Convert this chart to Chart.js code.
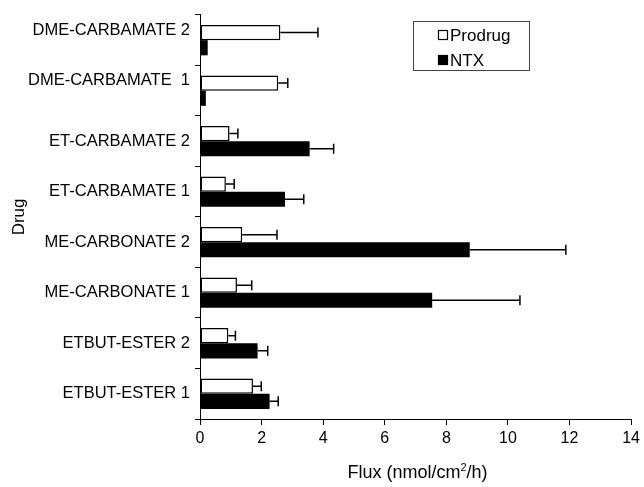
<!DOCTYPE html>
<html>
<head>
<meta charset="utf-8">
<script src="https://cdn.jsdelivr.net/npm/chart.js@4"></script>
<style>
html,body{margin:0;padding:0;background:#fff;}
#wrap{width:644px;height:487px;}
</style>
</head>
<body>
<div id="wrap"><canvas id="c" width="644" height="487"></canvas></div>
<script>
const categories = ['DME-CARBAMATE 2','DME-CARBAMATE  1','ET-CARBAMATE 2','ET-CARBAMATE 1','ME-CARBONATE 2','ME-CARBONATE 1','ETBUT-ESTER 2','ETBUT-ESTER 1'];
const prodrugValues = [2.61, 2.54, 0.96, 0.84, 1.37, 1.20, 0.92, 1.72];
const prodrugErrors = [1.22, 0.31, 0.27, 0.27, 1.13, 0.48, 0.23, 0.27];
const ntxValues = [0.25, 0.19, 3.56, 2.76, 8.76, 7.54, 1.87, 2.26];
const ntxErrors = [0.00, 0.00, 0.78, 0.61, 3.12, 2.85, 0.33, 0.28];
const xTicks = [0, 2, 4, 6, 8, 10, 12, 14];
const FONT = "'Liberation Sans', Arial, sans-serif";

const errorBars = {
  id: 'errorBars',
  afterDatasetsDraw(chart) {
    const ctx = chart.ctx;
    const xs = chart.scales.x;
    chart.data.datasets.forEach((ds, di) => {
      const meta = chart.getDatasetMeta(di);
      meta.data.forEach((bar, i) => {
        const err = ds.errors[i];
        if (!err) return;
        const x0 = xs.getPixelForValue(ds.data[i]);
        const x1 = xs.getPixelForValue(ds.data[i] + err);
        const y = bar.y;
        ctx.save();
        ctx.strokeStyle = '#000';
        ctx.lineWidth = 1.5;
        ctx.beginPath();
        ctx.moveTo(x0, y); ctx.lineTo(x1, y);
        ctx.moveTo(x1, y - 5); ctx.lineTo(x1, y + 5);
        ctx.stroke();
        ctx.restore();
      });
    });
  }
};

const extras = {
  id: 'extras',
  afterDraw(chart) {
    const ctx = chart.ctx;
    ctx.save();
    // legend
    ctx.strokeStyle = '#444';
    ctx.lineWidth = 1;
    ctx.fillStyle = '#fff';
    ctx.fillRect(413.5, 21.5, 116, 49);
    ctx.strokeRect(413.5, 21.5, 116, 49);
    const ys = [35, 60];
    chart.data.datasets.forEach((ds, i) => {
      ctx.fillStyle = ds.backgroundColor;
      ctx.fillRect(438, ys[i] - 5, 10, 10);
      ctx.strokeStyle = '#000';
      ctx.lineWidth = 1.2;
      ctx.strokeRect(438.5, ys[i] - 4.5, 9, 9);
      ctx.fillStyle = '#000';
      ctx.font = '17px ' + FONT;
      ctx.textBaseline = 'middle';
      ctx.textAlign = 'left';
      ctx.fillText(ds.label, 450, ys[i] + 1);
    });
    // x axis title with superscript
    const parts = [['Flux (nmol/cm', 18, 0], ['2', 11, -7], ['/h)', 18, 0]];
    let total = 0;
    parts.forEach(p => { ctx.font = p[1] + 'px ' + FONT; total += ctx.measureText(p[0]).width; });
    const ca = chart.chartArea;
    let x = (ca.left + ca.right) / 2 - total / 2 + 2;
    const base = 478;
    ctx.textBaseline = 'alphabetic';
    ctx.fillStyle = '#000';
    parts.forEach(p => {
      ctx.font = p[1] + 'px ' + FONT;
      ctx.fillText(p[0], x, base + p[2]);
      x += ctx.measureText(p[0]).width;
    });
    ctx.restore();
  }
};

new Chart(document.getElementById('c'), {
  type: 'bar',
  data: {
    labels: categories,
    datasets: [
      { label: 'Prodrug', data: prodrugValues, errors: prodrugErrors, backgroundColor: '#ffffff', borderColor: '#000000', borderWidth: 1.5, borderSkipped: false },
      { label: 'NTX', data: ntxValues, errors: ntxErrors, backgroundColor: '#000000', borderColor: '#000000', borderWidth: 0 }
    ]
  },
  options: {
    indexAxis: 'y',
    responsive: false,
    animation: false,
    devicePixelRatio: 1,
    layout: { padding: { top: 14, right: 10, left: 0, bottom: 0 } },
    plugins: { legend: { display: false }, tooltip: { enabled: false } },
    datasets: { bar: { categoryPercentage: 0.6, barPercentage: 1.0 } },
    scales: {
      x: {
        min: 0, max: 14,
        afterBuildTicks(scale) { scale.ticks = xTicks.map(v => ({ value: v })); },
        afterFit(scale) { scale.height = 68; },
        grid: { drawOnChartArea: false, color: '#000', tickLength: 6, lineWidth: 1 },
        border: { color: '#000', width: 1 },
        ticks: { color: '#000', font: { family: FONT, size: 16 }, padding: 4, maxRotation: 0 }
      },
      y: {
        afterFit(scale) { scale.width = 200; },
        grid: { drawOnChartArea: false, color: '#000', tickLength: 5, lineWidth: 1, offset: true },
        border: { color: '#000', width: 1 },
        ticks: {
          color: '#000', font: { family: FONT, size: 16.5 }, padding: 5,
          callback(v, i) { const l = categories[i]; return l.startsWith('DME') ? [l, ''] : l; }
        },
        title: { display: true, text: 'Drug', color: '#000', font: { family: FONT, size: 17 }, padding: { top: 9, bottom: 0 } }
      }
    }
  },
  plugins: [errorBars, extras]
});
</script>
</body>
</html>
